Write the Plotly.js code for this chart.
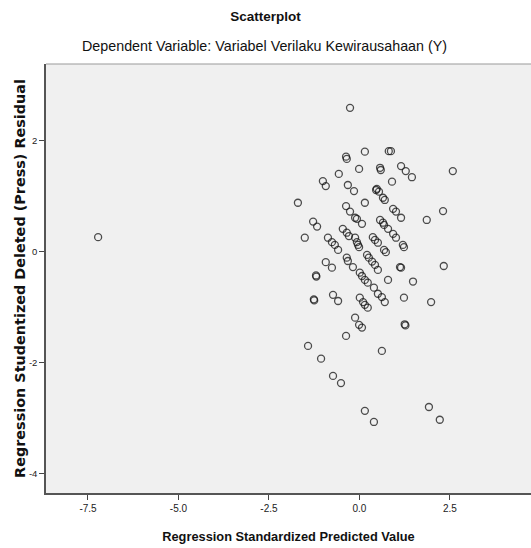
<!DOCTYPE html>
<html>
<head>
<meta charset="utf-8">
<script src="https://cdn.plot.ly/plotly-3.0.1.min.js"></script>
<style>html,body{margin:0;padding:0;background:#fff;}#chart{width:531px;height:548px;}</style>
</head>
<body>
<div id="chart"></div>
<script>
// Regression Standardized Predicted Value
var predicted = [-7.22,-0.26,0.15,-0.37,-0.35,-0.01,0.57,0.59,-0.57,-1.01,-0.93,-0.32,-0.15,0.46,0.48,0.54,0.65,0.70,-1.70,-0.37,0.15,0.81,0.87,1.15,1.28,1.45,2.58,0.90,2.31,-0.26,-0.12,-0.07,0.07,0.57,0.65,-1.28,-1.17,-1.51,-0.46,-0.35,-0.29,-0.12,-0.07,-0.04,-0.01,0.37,0.43,0.51,0.68,-0.87,-0.76,-0.68,-0.59,-0.35,-0.32,-0.18,0.21,0.26,0.35,0.43,0.51,-0.93,-0.76,-1.20,-1.19,0.01,0.07,0.15,0.23,0.40,0.51,0.62,-0.73,-0.59,-1.26,-1.25,0.01,0.10,0.15,0.23,-0.12,0.93,1.01,1.15,1.86,0.68,0.79,0.93,1.01,1.20,1.23,0.73,1.12,1.15,0.79,1.48,2.33,0.70,1.23,1.98,-0.01,0.07,-0.37,-1.42,-1.06,0.62,-0.73,-0.51,0.15,0.40,1.25,1.27,1.92,2.22];
// Regression Studentized Deleted (Press) Residual
var residual = [0.26,2.59,1.80,1.71,1.67,1.49,1.51,1.47,1.40,1.27,1.18,1.20,1.09,1.11,1.13,1.08,0.97,0.93,0.88,0.82,0.88,1.81,1.81,1.54,1.45,1.34,1.45,1.26,0.73,0.72,0.61,0.59,0.50,0.57,0.52,0.54,0.45,0.25,0.41,0.34,0.28,0.25,0.17,0.12,0.08,0.26,0.21,0.16,0.03,0.25,0.17,0.12,0.03,-0.11,-0.17,-0.28,-0.06,-0.11,-0.18,-0.24,-0.33,-0.19,-0.29,-0.43,-0.45,-0.38,-0.44,-0.51,-0.56,-0.65,-0.76,-0.82,-0.78,-0.89,-0.86,-0.88,-0.83,-0.91,-0.96,-1.01,-1.19,0.77,0.72,0.61,0.57,0.48,0.41,0.32,0.25,0.12,0.08,-0.01,-0.28,-0.29,-0.51,-0.54,-0.26,-0.91,-0.83,-0.91,-1.32,-1.37,-1.52,-1.70,-1.93,-1.79,-2.24,-2.37,-2.87,-3.07,-1.31,-1.33,-2.80,-3.03];

var xTickVals = [-7.5,-5.0,-2.5,0.0,2.5];
var xTickText = ['-7.5','-5.0','-2.5','0.0','2.5'];
var yTickVals = [-4,-2,0,2];
var yTickText = ['-4','-2','0','2'];

var titleText = 'Scatterplot';
var subtitleText = 'Dependent Variable: Variabel Verilaku Kewirausahaan (Y)';
var xTitle = 'Regression Standardized Predicted Value';
var yTitle = 'Regression Studentized Deleted (Press) Residual';

var sans = '"Liberation Sans", Arial, sans-serif';

var trace = {
  x: predicted,
  y: residual,
  type: 'scatter',
  mode: 'markers',
  marker: {symbol: 'circle-open', size: 7, color: 'rgba(20,20,20,0.75)', line: {width: 1.3}},
  hoverinfo: 'x+y'
};

var layout = {
  width: 531, height: 548,
  margin: {l: 46, r: 0, t: 64, b: 55},
  paper_bgcolor: '#ffffff',
  plot_bgcolor: '#f0f0f0',
  showlegend: false,
  title: {text: '<b>' + titleText + '</b>', x: 0.5, xref: 'container', y: 1 - 16/548, yref: 'container', yanchor: 'middle', xanchor: 'center',
          font: {family: sans, size: 13.5, color: '#111'}},
  annotations: [{
    text: subtitleText, xref: 'paper', yref: 'paper', x: 0.4495, y: 1.042,
    xanchor: 'center', yanchor: 'middle', showarrow: false,
    font: {family: sans, size: 14.3, color: '#111'}
  }],
  xaxis: {
    range: [-8.66, 4.74], tickvals: xTickVals, ticktext: xTickText,
    ticks: 'outside', ticklen: 5, tickwidth: 1, tickcolor: '#444',
    showgrid: false, zeroline: false, showline: true, linecolor: '#555', linewidth: 1.5,
    tickfont: {family: sans, size: 10, color: '#222'},
    title: {text: '<b>' + xTitle + '</b>', standoff: 19, font: {family: sans, size: 12.8, color: '#111'}},
    fixedrange: true
  },
  yaxis: {
    range: [-4.35, 3.38], tickvals: yTickVals, ticktext: yTickText,
    ticks: 'outside', ticklen: 5, tickwidth: 1, tickcolor: '#444',
    showgrid: false, zeroline: false, showline: true, linecolor: '#555', linewidth: 1.5,
    tickfont: {family: sans, size: 9.5, color: '#222'},
    title: {text: '<b>' + yTitle + '</b>', standoff: 0, font: {family: '"DejaVu Sans", Verdana, sans-serif', size: 14.4, color: '#111'}},
    fixedrange: true
  },
  shapes: [{type: 'line', xref: 'paper', yref: 'paper', x0: 0, x1: 1, y0: 1, y1: 1, line: {color: '#999', width: 1}}]
};

Plotly.newPlot('chart', [trace], layout, {displayModeBar: false, staticPlot: false});
</script>
</body>
</html>
